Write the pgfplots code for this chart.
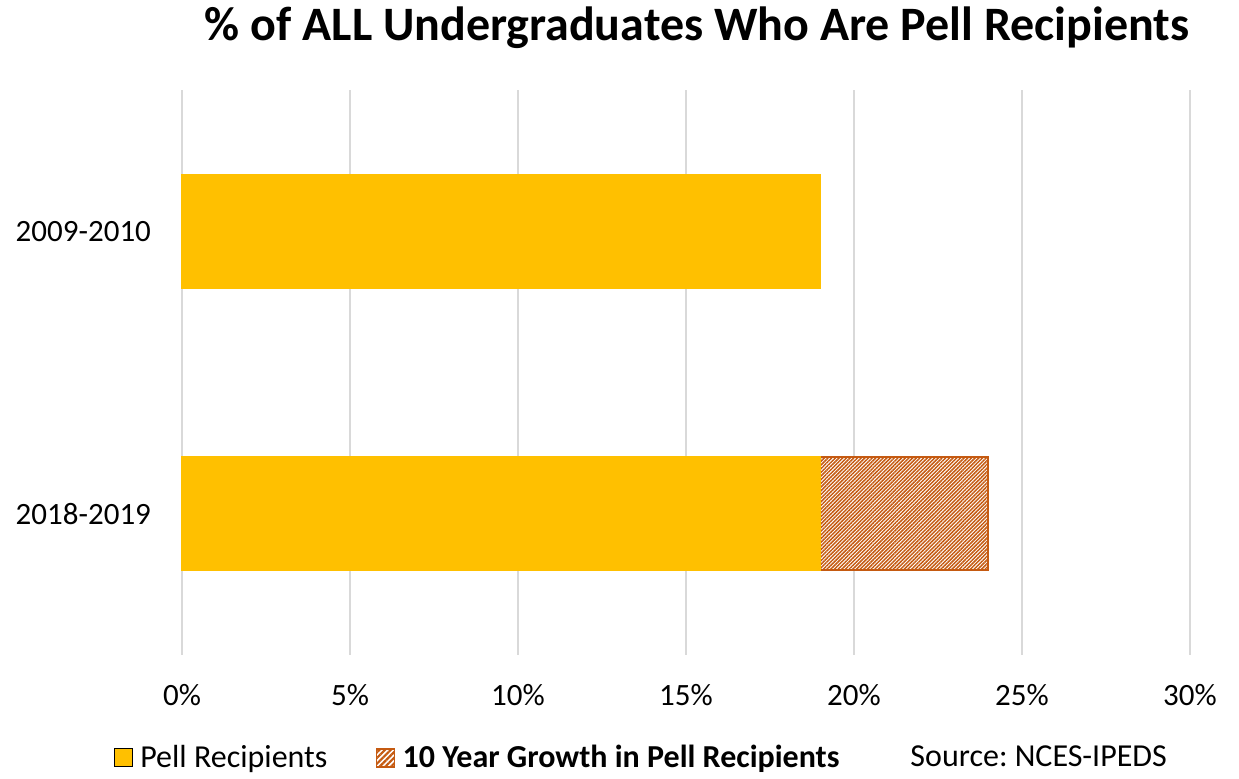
\documentclass[border=0pt]{standalone}
\usepackage{pgfplots}
\pgfplotsset{compat=1.18}
\usepackage{fontspec}
\setmainfont{Carlito}
\usetikzlibrary{patterns.meta}
\definecolor{pellyellow}{HTML}{FFC000}
\definecolor{growthorange}{HTML}{C55A11}
\definecolor{gridgray}{HTML}{D9D9D9}
\begin{document}
\begin{tikzpicture}
\begin{axis}[
  scale only axis,
  width=504pt,
  height=282.5pt,
  xbar,
  bar width=56.5pt,
  bar shift=0pt,
  xmin=0, xmax=30,
  ymin=-0.5, ymax=1.5,
  y dir=reverse,
  axis line style={draw=none},
  major tick length=0pt,
  xtick={0,5,10,15,20,25,30},
  xticklabel={\pgfmathprintnumber{\tick}\%},
  ytick={0,1},
  yticklabels={2009-2010,2018-2019},
  xmajorgrids,
  grid style={gridgray, line width=1pt},
  /pgf/number format/assume math mode=true,
  tick label style={font=\fontsize{15.5}{18}\selectfont, text=black},
  xticklabel style={yshift=-11pt},
  yticklabel style={xshift=-12pt},
  title={\textbf{\% of ALL Undergraduates Who Are Pell Recipients}},
  title style={font=\fontsize{24}{28}\selectfont, at={(0.511,1)}, anchor=center,
    inner sep=0pt, yshift=25pt},
  legend columns=-1,
  legend style={draw=none, fill=none, at={(0.457,-0.182)}, anchor=center,
    font=\fontsize{16}{19}\selectfont,
    /tikz/every odd column/.append style={column sep=1.5pt},
    /tikz/every even column/.append style={column sep=22pt}},
  legend image code/.code={\path[#1] (0pt,-4.5pt) rectangle (9pt,4.5pt);},
  clip=false,
]
\addplot[draw=growthorange, line width=1pt, fill=white,
  postaction={pattern={Lines[angle=45,distance=1.3pt,line width=0.75pt]}, pattern color=growthorange},
  forget plot]
  coordinates {(24,1)};
\addplot[draw=pellyellow, line width=1pt, fill=pellyellow, forget plot]
  coordinates {(19,0) (19,1)};
\addlegendimage{fill=pellyellow}
\addlegendentry{Pell Recipients}
\addlegendimage{draw=growthorange, line width=0.8pt, fill=white,
  postaction={pattern={Lines[angle=45,distance=2pt,line width=1.1pt]}, pattern color=growthorange}}
\addlegendentry{\textbf{10 Year Growth in Pell Recipients}}
\addlegendimage{empty legend}
\addlegendentry{\hspace{8pt}Source:\ NCES-IPEDS}
\coordinate (bl) at (rel axis cs:0,0);
\end{axis}
\path (bl) ++(-91pt,-59.5pt) rectangle ++(619.5pt,387pt);
\end{tikzpicture}
\end{document}
